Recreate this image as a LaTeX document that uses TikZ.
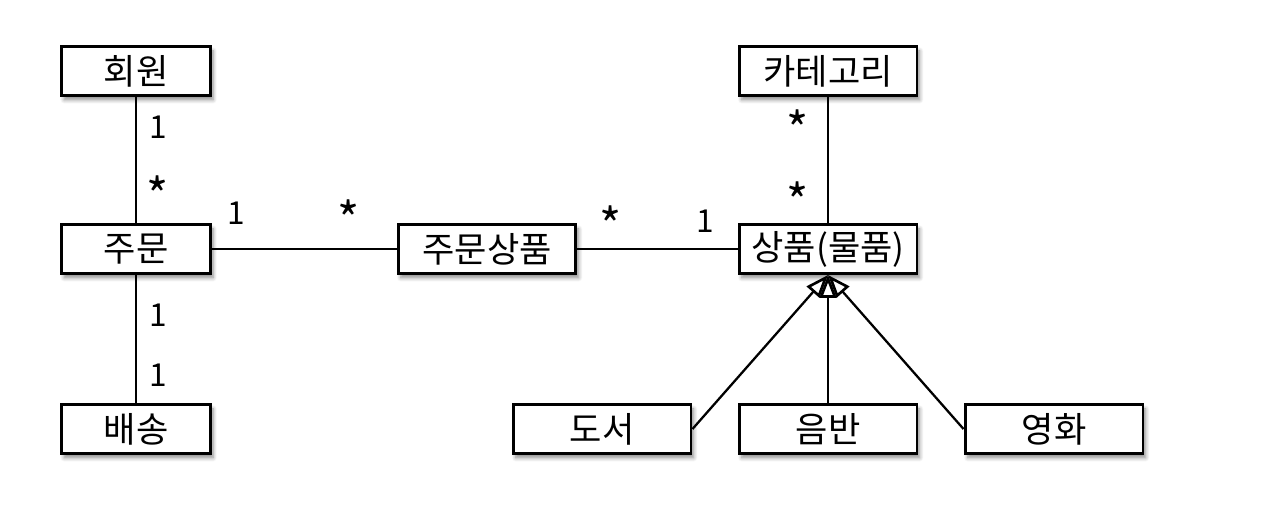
\documentclass[tikz,border=0pt]{standalone}
\usepackage{fontspec}
\setmainfont{Noto Sans CJK KR}
\usetikzlibrary{arrows.meta,shadows.blur}

\begin{document}
\begin{tikzpicture}[x=0.02cm,y=-0.02cm,
    entity/.style={draw, line width=1.7pt, fill=white, minimum width=2.98cm,
      minimum height=0.98cm, inner sep=0pt, font=\fontsize{20}{24}\selectfont,
      blur shadow={shadow xshift=1.5pt, shadow yshift=-2.5pt, shadow blur steps=6, shadow opacity=45}},
    wide/.style={entity, minimum width=3.56cm},
    mult/.style={font=\fontsize{18}{22}\selectfont, inner sep=0pt},
    many/.style={font=\fontsize{27}{30}\selectfont, inner sep=0pt},
    link/.style={line width=1.2pt},
    isa/.style={line width=1.3pt, -{Triangle[open, length=13pt, width=9.5pt, line width=1.5pt]}}]

    \useasboundingbox (0,0) rectangle (1270,506);

    % entities
    \node[entity] (member) at (136,71) {회원};
    \node[entity] (order) at (136,249) {주문};
    \node[entity] (delivery) at (136,429) {배송};
    \node[wide] (orderitem) at (487,249) {주문상품};
    \node[wide] (item) at (828,249) {상품(물품)};
    \node[wide] (category) at (828,71) {카테고리};
    \node[wide] (book) at (602,429) {도서};
    \node[wide] (album) at (828,429) {음반};
    \node[wide] (movie) at (1054,429) {영화};

    % associations
    \draw[link] (member) -- (order);
    \draw[link] (order) -- (delivery);
    \draw[link] (order) -- (orderitem);
    \draw[link] (orderitem) -- (item);
    \draw[link] (category) -- (item);

    % multiplicities
    \node[mult] (m1) at (158,127) {1};
    \node[many] (m2) at (158,195) {*};
    \node[mult] (m3) at (236,213) {1};
    \node[many] (m4) at (349,219) {*};
    \node[many] (m5) at (611,225) {*};
    \node[mult] (m6) at (705,221) {1};
    \node[many] (m7) at (798,129) {*};
    \node[many] (m8) at (798,201) {*};
    \node[mult] (m9) at (158,315) {1};
    \node[mult] (m10) at (158,375) {1};

    % generalization
    \draw[isa] (book.east) -- (item.south);
    \draw[isa] (album.north) -- (item.south);
    \draw[isa] (movie.west) -- (item.south);

\end{tikzpicture}
\end{document}
